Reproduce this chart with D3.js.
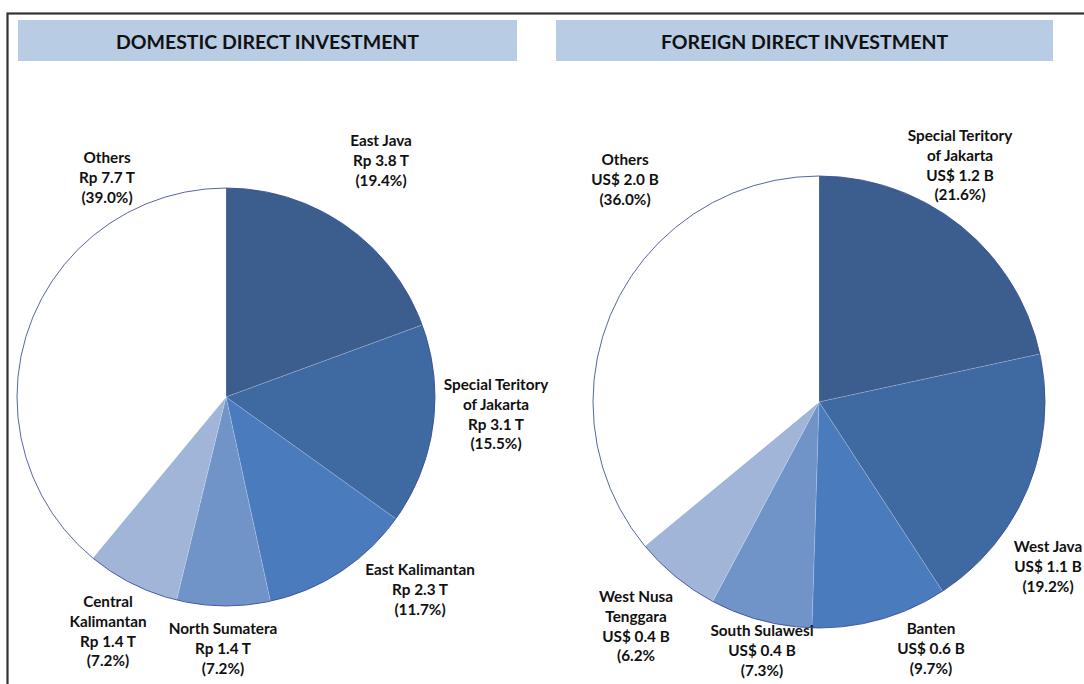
<!DOCTYPE html>
<html>
<head>
<meta charset="utf-8">
<script src="https://cdn.jsdelivr.net/npm/d3@7"></script>
<style>
html,body{margin:0;padding:0;background:#fff;}
svg{display:block;}
text{font-family:Lato,"Open Sans",sans-serif;font-weight:700;fill:#111;}
</style>
</head>
<body>
<svg id="chart" width="1084" height="684"></svg>
<script>
// ---------- DATA ----------
const panelTitles = ["DOMESTIC DIRECT INVESTMENT", "FOREIGN DIRECT INVESTMENT"];

const domCategories = [["East Java"], ["Special Teritory", "of Jakarta"], ["East Kalimantan"], ["North Sumatera"], ["Central", "Kalimantan"], ["Others"]];
const domValues = ["Rp 3.8 T", "Rp 3.1 T", "Rp 2.3 T", "Rp 1.4 T", "Rp 1.4 T", "Rp 7.7 T"];
const domShares = [19.4, 15.5, 11.7, 7.2, 7.2, 39.0];

const forCategories = [["Special Teritory", "of Jakarta"], ["West Java"], ["Banten"], ["South Sulawesi"], ["West Nusa", "Tenggara"], ["Others"]];
const forValues = ["US$ 1.2 B", "US$ 1.1 B", "US$ 0.6 B", "US$ 0.4 B", "US$ 0.4 B", "US$ 2.0 B"];
const forShares = [21.6, 19.2, 9.7, 7.3, 6.2, 36.0];
const forShareText = ["(21.6%)", "(19.2%)", "(9.7%)", "(7.3%)", "(6.2%", "(36.0%)"];

// ---------- STYLE / LAYOUT ----------
const sliceColors = ["#3b5e8f", "#3f69a1", "#4a7bbd", "#7093c8", "#a0b5d8", "#ffffff"];
const titleFill = "#b8cce4";

const layouts = [
  { bar: [18, 20, 499, 41], center: [226, 397], r: 209,
    labels: [[381, 140], [496, 384], [420, 569], [223, 628], [108, 601], [107, 157]] },
  { bar: [556, 20, 497, 41], center: [819, 402], r: 226,
    labels: [[960, 135], [1048, 546], [931, 628], [762, 630], [636, 596], [625, 159]] }
];
const lineGap = 19.8;

const panels = [
  { title: panelTitles[0], cats: domCategories, vals: domValues, shares: domShares,
    shareText: domShares.map(d => "(" + d.toFixed(1) + "%)") },
  { title: panelTitles[1], cats: forCategories, vals: forValues, shares: forShares,
    shareText: forShareText }
];

const svg = d3.select("#chart");

// outer frame
svg.append("rect").attr("x", 7.5).attr("y", 13.5).attr("width", 1100).attr("height", 700)
  .attr("fill", "none").attr("stroke", "#333").attr("stroke-width", 2.2);

const pie = d3.pie().sort(null).value(d => d);

panels.forEach((p, i) => {
  const L = layouts[i];
  svg.append("rect").attr("x", L.bar[0]).attr("y", L.bar[1]).attr("width", L.bar[2]).attr("height", L.bar[3])
    .attr("fill", titleFill);
  svg.append("text").attr("x", L.bar[0] + L.bar[2] / 2).attr("y", L.bar[1] + L.bar[3] / 2 + 1)
    .attr("text-anchor", "middle").attr("dominant-baseline", "central")
    .style("font-size", "19.5px").text(p.title);

  const g = svg.append("g").attr("transform", `translate(${L.center[0]},${L.center[1]})`);
  const arc = d3.arc().innerRadius(0).outerRadius(L.r);
  const arcs = pie(p.shares);
  g.selectAll("path.slice").data(arcs).join("path").attr("class", "slice")
    .attr("d", arc).attr("fill", (d, j) => sliceColors[j])
    .attr("stroke", (d, j) => j === 5 ? "none" : "rgba(255,255,255,0.22)").attr("stroke-width", 0.8);
  g.append("circle").attr("r", L.r).attr("fill", "none").attr("stroke", "#2c3e91").attr("stroke-width", 0.8);

  p.cats.forEach((c, j) => {
    const lines = c.concat([p.vals[j], p.shareText[j]]);
    const t = svg.append("text").attr("text-anchor", "middle").style("font-size", "15.3px");
    lines.forEach((ln, k) => {
      t.append("tspan").attr("x", L.labels[j][0]).attr("y", L.labels[j][1] + k * lineGap)
        .attr("dominant-baseline", "central").text(ln);
    });
  });
});
</script>
</body>
</html>
